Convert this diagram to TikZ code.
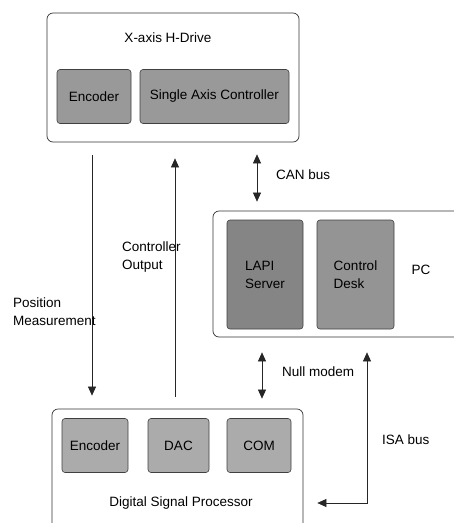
\documentclass[tikz,border=0pt]{standalone}
\usepackage{fontspec}
\setmainfont{Liberation Sans}
\usepackage{tikz}
\usetikzlibrary{arrows.meta,positioning,calc}

\begin{document}
\begin{tikzpicture}[x=1pt,y=-1pt,>={Triangle[length=9pt,width=8pt]},
  font=\fontsize{13.5}{18}\selectfont,
  box/.style={draw=black!80,line width=0.7pt,rounded corners=6pt,inner sep=0pt},
  blk/.style={draw=black!75,line width=0.6pt,rounded corners=3pt,inner sep=0pt,minimum height=54,align=left},
  lab/.style={inner sep=0pt,align=left},
  bus/.style={black!85,line width=0.6pt}]
\clip (0,0) rectangle (454,523);
% outer boxes
\node[box,minimum width=252,minimum height=129] (drive) at (173,77.5) {};
\node[box,minimum width=267,minimum height=126] (pc) at (346.5,274) {};
\node[box,minimum width=251,minimum height=131] (dsp) at (177.5,474.5) {};
% inner blocks
\node[blk,fill=black!40,minimum width=74] (enc1) at (94,96.5) {Encoder};
\node[blk,fill=black!40,minimum width=149] (sac) at (214.5,96.5) {Single Axis Controller};
\node[blk,fill=black!48,minimum width=76,minimum height=109] (lapi) at (265,274.5) {LAPI\\Server};
\node[blk,fill=black!42,minimum width=77,minimum height=109] (desk) at (355.5,274.5) {Control\\Desk};
\node[blk,fill=black!33,minimum width=66] (enc2) at (95,445.5) {Encoder};
\node[blk,fill=black!33,minimum width=61] (dac) at (178.5,445.5) {DAC};
\node[blk,fill=black!33,minimum width=64] (com) at (259,445.5) {COM};
% titles
\node[lab] (tdrive) at (168,38) {X-axis H-Drive};
\node[lab] (tpc) at (421,270) {PC};
\node[lab] (tdsp) at (181,503) {Digital Signal Processor};
% connectors
\coordinate (xpm) at (92,0);
\coordinate (xco) at (175,0);
\coordinate (xcan) at (257,0);
\coordinate (xnull) at (262,0);
\coordinate (isa) at (367,503);
\draw[bus,->,shorten <=13pt,shorten >=13pt] (drive.south -| xpm) -- (dsp.north -| xpm);
\draw[bus,->,shorten <=12pt,shorten >=16pt] (dsp.north -| xco) -- (drive.south -| xco);
\draw[bus,<->,shorten <=12pt,shorten >=9pt] (drive.south -| xcan) -- (pc.north -| xcan);
\draw[bus,<->,shorten <=15pt,shorten >=10pt] (pc.south -| xnull) -- (dsp.north -| xnull);
\draw[bus,<->,shorten <=15pt,shorten >=14pt] (pc.south -| isa) |- (dsp.east |- isa);
% connector labels
\node[lab,anchor=west] (lpm) at (13,312) {Position\\Measurement};
\node[lab,anchor=west] (lco) at (122,257) {Controller\\Output};
\node[lab,anchor=west] (lcan) at (276,175) {CAN bus};
\node[lab,anchor=west] (lnull) at (282,372) {Null modem};
\node[lab,anchor=west] (lisa) at (382,440) {ISA bus};
\end{tikzpicture}
\end{document}
